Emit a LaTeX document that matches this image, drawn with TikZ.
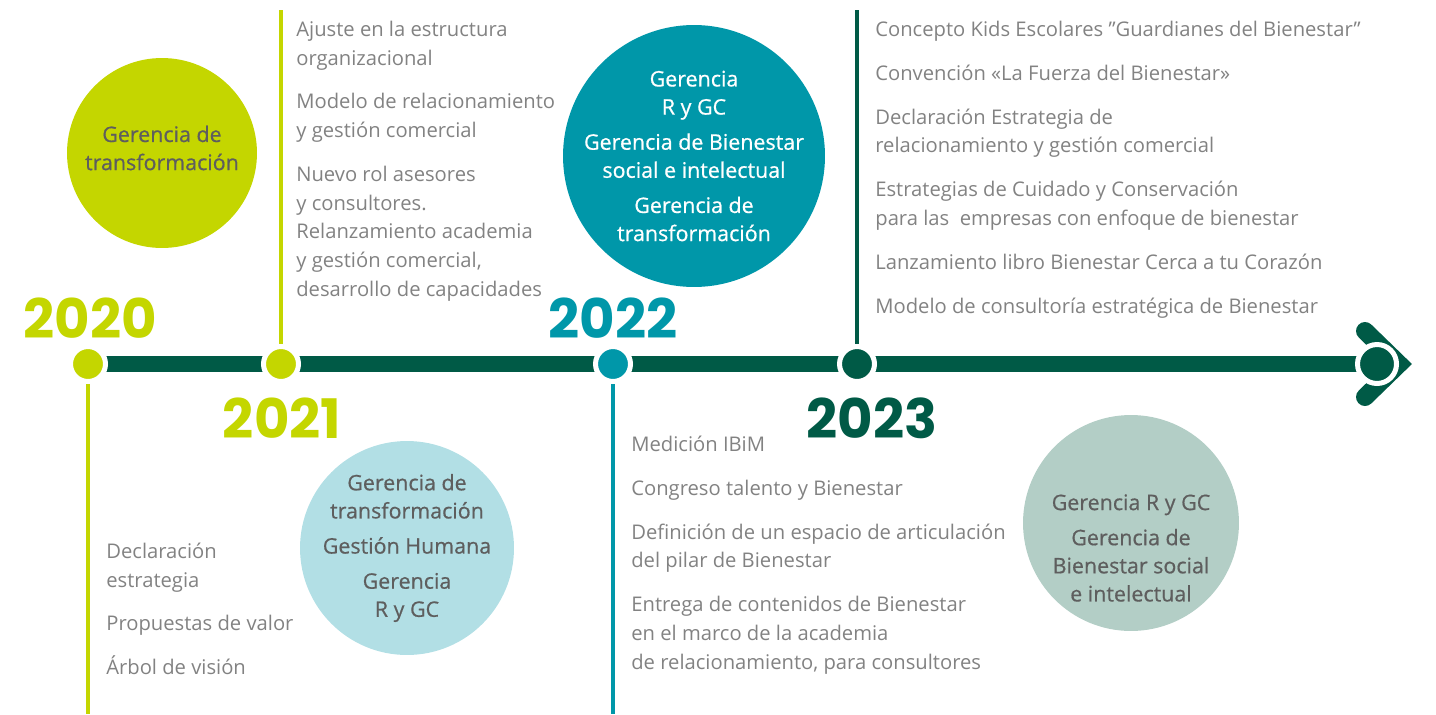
\documentclass[tikz,border=0pt]{standalone}
\usepackage{fontspec}
\setmainfont{Open Sans}
\newfontfamily\yearfont{Poppins}
\newfontfamily\bubfont{Open Sans}[FakeBold=0.6]
\usetikzlibrary{backgrounds}
\definecolor{lime}{HTML}{C4D600}
\definecolor{pine}{HTML}{005A46}
\definecolor{petrol}{HTML}{0097A9}
\definecolor{sky}{HTML}{B2DFE5}
\definecolor{sage}{HTML}{B3CEC6}
\definecolor{listgrey}{HTML}{828282}
\definecolor{circgrey}{HTML}{5E5E5E}
\tikzset{
  year/.style = {
    inner sep=0pt, font=\yearfont\bfseries\fontsize{31}{33}\selectfont
  },
  items/.style = {
    anchor=north west, align=left, inner sep=0pt, text=listgrey,
    font=\fontsize{11.5}{16.3}\selectfont
  },
  bubble/.style = {
    circle, inner sep=0pt, draw=none
  },
  bubtext/.style = {
    align=center, inner sep=0pt, text=circgrey,
    font=\bubfont\fontsize{12.2}{16}\selectfont
  },
  dot/.style = {
    circle, draw=white, line width=0.1cm, minimum size=0.7cm, inner sep=0pt
  },
  stem/.style = { line width=0.09cm },
  bar/.style  = { draw=pine, line width=0.32cm }
}

\begin{document}
\begin{tikzpicture}[x=0.02cm, y=-0.02cm]

    \useasboundingbox (0,0) rectangle (1436,714);

    % ------------------------------------------------------------- Timeline
    \node [dot, fill=lime]   (d20)  at (88,  364) {};
    \node [dot, fill=lime]   (d21)  at (281, 364) {};
    \node [dot, fill=petrol] (d22)  at (613, 364) {};
    \node [dot, fill=pine]   (d23)  at (857, 364) {};
    \node [dot, fill=pine, minimum size=0.78cm] (endc) at (1377, 364) {};

    \coordinate (s20) at (88,  714);
    \coordinate (s21) at (281, 10);
    \coordinate (s22) at (613, 714);
    \coordinate (s23) at (857, 10);

    % ---------------------------------------------------------------- Years
    \node [year, text=lime]   (y20) at (90,  318) {2020};
    \node [year, text=lime]   (y21) at (282, 418) {2021};
    \node [year, text=petrol] (y22) at (613, 318) {2022};
    \node [year, text=pine]   (y23) at (872, 418) {2023};

    % -------------------------------------------------------------- Bubbles
    \node [bubble, fill=lime,   minimum size=3.8cm]  (c20) at (162, 153) {};
    \node [bubble, fill=sky,    minimum size=4.28cm] (c21) at (407, 548) {};
    \node [bubble, fill=petrol, minimum size=5.24cm] (c22) at (694, 156) {};
    \node [bubble, fill=sage,   minimum size=4.32cm] (c23) at (1131, 523) {};

    \node [bubtext] (t20) at ([yshift=0.1cm]c20.center)
      {Gerencia de\\transformación};
    \node [bubtext] (t21) at (c21.center)
      {Gerencia de\\transformación\\[4pt]Gestión Humana\\[4pt]Gerencia\\R y GC};
    \node [bubtext, text=white] (t22) at (c22.center)
      {Gerencia\\R y GC\\[4pt]Gerencia de Bienestar\\social e intelectual\\[4pt]Gerencia de\\transformación};
    \node [bubtext] (t23) at ([yshift=-0.5cm]c23.center)
      {Gerencia R y GC\\[4pt]Gerencia de\\Bienestar social\\e intelectual};

    % ---------------------------------------------------------------- Lists
    \node [items] (l20) at (106, 538)
      {\strut Declaración\\estrategia\\[8.7pt]Propuestas de valor\\[8.7pt]Árbol de visión};
    \node [items] (l21) at (296, 16)
      {\strut Ajuste en la estructura\\organizacional\\[8.7pt]Modelo de relacionamiento\\y gestión comercial\\[8.7pt]Nuevo rol asesores\\y consultores.\\Relanzamiento academia\\y gestión comercial,\\desarrollo de capacidades};
    \node [items] (l22) at (631, 431)
      {\strut Medición IBiM\\[8.7pt]Congreso talento y Bienestar\\[8.7pt]Definición de un espacio de articulación\\del pilar de Bienestar\\[8.7pt]Entrega de contenidos de Bienestar\\en el marco de la academia\\de relacionamiento, para consultores};
    \node [items] (l23) at (875, 16)
      {\strut Concepto Kids Escolares ”Guardianes del Bienestar”\\[8.7pt]Convención «La Fuerza del Bienestar»\\[8.7pt]Declaración Estrategia de\\relacionamiento y gestión comercial\\[8.7pt]Estrategias de Cuidado y Conservación\\para las\ \ empresas con enfoque de bienestar\\[8.7pt]Lanzamiento libro Bienestar Cerca a tu Corazón\\[8.7pt]Modelo de consultoría estratégica de Bienestar};

    % ----------------------------------------- Connectors (behind the dots)
    \begin{scope}[on background layer]

      % -------- bar and arrow head
      \draw [bar] (d20.center) -- (endc.center);
      \draw [pine, line width=0.36cm, line cap=round, line join=miter]
        ([shift={(-12,-33)}]endc.center) -- ([shift={(22,0)}]endc.center)
        -- ([shift={(-12,33)}]endc.center);

      % -------- stems
      \draw [stem, lime]   (d20) -- (s20);
      \draw [stem, lime]   (d21) -- (s21);
      \draw [stem, petrol] (d22) -- (s22);
      \draw [stem, pine]   (d23) -- (s23);

    \end{scope}

  \end{tikzpicture}
\end{document}
